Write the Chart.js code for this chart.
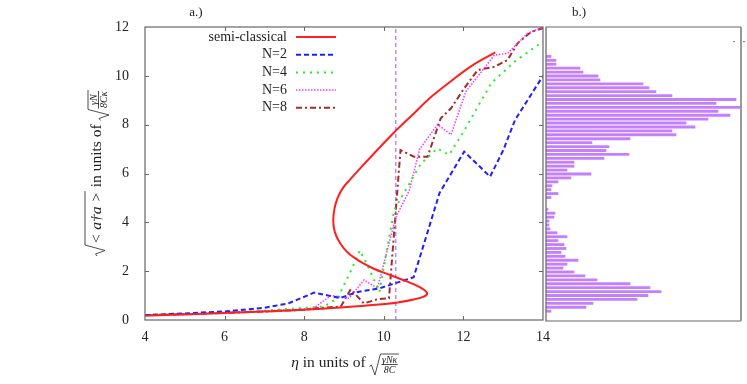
<!DOCTYPE html>
<html lang="en">
<head>
  <meta charset="UTF-8">
  <title>Bistability</title>
  <script src="https://cdn.jsdelivr.net/npm/chart.js"></script>
  <style>
    body { margin: 0; background: #fff; }
    .box { position: absolute; top: 0; height: 384px; }
  </style>
</head>
<body>
  <div class="box" style="left:0; width:560px;"><canvas id="mainChart"></canvas></div>
  <div class="box" style="left:540px; width:207px;"><canvas id="histChart"></canvas></div>

  <script>
    // semi-classical S-curve (in drawing order)
    const semiEta = [4, 5, 6, 7, 8, 9, 9.8, 10.35, 10.75, 11.0, 11.09, 11.0, 10.76, 10.45, 10.1, 9.75, 9.4, 9.1, 8.9, 8.77, 8.73, 8.76, 8.84, 8.97, 9.15, 9.4, 9.76, 10.3, 10.75, 11.2, 11.7, 12.2, 12.8];
    const semiAmp = [0.17, 0.23, 0.29, 0.35, 0.42, 0.52, 0.62, 0.72, 0.84, 0.96, 1.08, 1.25, 1.46, 1.66, 1.88, 2.1, 2.4, 2.75, 3.15, 3.6, 4.05, 4.55, 5.0, 5.4, 5.75, 6.2, 6.83, 7.75, 8.45, 9.15, 9.8, 10.4, 10.96];

    const n2Eta = [4, 5, 6, 7, 7.6, 8.25, 8.9, 9.35, 9.9, 10.75, 11.1, 11.4, 12.02, 12.67, 13.0, 13.3, 14];
    const n2Amp = [0.2, 0.27, 0.35, 0.5, 0.68, 1.12, 0.9, 1.15, 1.3, 1.75, 3.6, 5.2, 6.9, 5.87, 6.95, 8.2, 10.0];

    const n4Eta = [4, 5, 6, 7, 8, 8.5, 8.84, 9.17, 9.4, 9.6, 9.89, 10.26, 10.93, 11.35, 11.64, 12.0, 12.7, 13.3, 14];
    const n4Amp = [0.2, 0.25, 0.3, 0.38, 0.5, 0.55, 0.9, 2.0, 2.85, 2.2, 1.15, 4.5, 6.4, 7.03, 6.76, 7.7, 9.7, 10.6, 11.4];

    const n6Eta = [4, 5, 6, 7, 8, 8.25, 8.67, 9.13, 9.5, 9.84, 10.3, 10.64, 10.9, 11.35, 11.69, 12.06, 12.78, 13.11, 13.61, 14];
    const n6Amp = [0.2, 0.25, 0.3, 0.37, 0.45, 0.5, 1.0, 0.89, 1.64, 1.3, 4.2, 5.3, 7.0, 8.0, 7.6, 9.35, 10.85, 10.92, 11.74, 12.0];

    const n8Eta = [4, 5, 6, 7, 8, 8.25, 8.92, 9.17, 9.5, 9.84, 10.13, 10.42, 10.76, 11.1, 11.43, 11.69, 12.02, 12.36, 12.78, 13.11, 13.36, 13.7, 14];
    const n8Amp = [0.2, 0.24, 0.29, 0.35, 0.42, 0.48, 0.55, 1.26, 0.68, 0.85, 0.89, 6.96, 6.69, 6.69, 8.26, 8.67, 9.49, 10.24, 10.37, 10.65, 11.33, 11.8, 11.95];

    const markerEta = 10.3;

    // histogram counts, top bin first
    const histCounts = [0, 0, 0, 0, 0, 0, 0,
      5, 10, 10, 34, 37, 52, 54, 97, 103, 110, 126, 190, 170, 195, 172, 184, 162, 140, 149, 126,
      130, 84, 46, 63, 60, 83, 58, 28, 28, 21, 45, 25, 12, 6, 5, 12, 5, 0, 0, 2, 9, 8, 3, 3, 4,
      11, 21, 12, 18, 20, 15, 19, 32, 21, 17, 28, 39, 51, 84, 104, 115, 102, 91, 47, 40, 5,
      0, 0];

    const labels = ['semi-classical', 'N=2', 'N=4', 'N=6', 'N=8'];
    const xTicks = [4, 6, 8, 10, 12, 14];
    const yTicks = [0, 2, 4, 6, 8, 10, 12];

    const SERIF = '"Liberation Serif", "DejaVu Serif", serif';
    const font = (size, it) => (it ? 'italic ' : '') + size + 'px ' + SERIF;
    const pts = (xs, ys) => xs.map((x, i) => ({ x: x, y: ys[i] }));
    const TS = 15.5; // title font size

    function line(label, xs, ys, color, width, dash, tension) {
      return {
        label: label, data: pts(xs, ys), showLine: true, borderColor: color, backgroundColor: color,
        borderWidth: width, borderDash: dash, pointRadius: 0, tension: tension || 0, fill: false
      };
    }

    // radical sign with overline
    function drawSqrt(ctx, x, top, bottom, w) {
      const mid = bottom - (bottom - top) * 0.45;
      ctx.beginPath();
      ctx.moveTo(x, mid + 1);
      ctx.lineTo(x + 2, mid - 0.5);
      ctx.lineTo(x + 5.5, bottom);
      ctx.lineTo(x + 11, top);
      ctx.lineTo(x + w, top);
      ctx.stroke();
    }

    function runWidth(ctx, r) {
      if (r.t) { ctx.font = font(TS, r.it); return ctx.measureText(r.t).width; }
      if (r.sq) { ctx.font = font(TS, true); return 13 + ctx.measureText(r.sq).width; }
      ctx.font = font(10, true);
      return 14 + Math.max(ctx.measureText(r.num).width, ctx.measureText(r.den).width);
    }

    // draws a small formula centred on (cx, cy), baseline through cy
    function drawMath(ctx, runs, cx, cy, angle) {
      ctx.save();
      ctx.translate(cx, cy);
      ctx.rotate(angle);
      ctx.fillStyle = '#222';
      ctx.strokeStyle = '#222';
      ctx.lineWidth = 0.8;
      ctx.textBaseline = 'alphabetic';
      ctx.textAlign = 'left';
      const ws = runs.map(r => runWidth(ctx, r));
      let x = -ws.reduce((a, b) => a + b, 0) / 2;
      runs.forEach((r, i) => {
        if (r.t) {
          ctx.font = font(TS, r.it);
          ctx.fillText(r.t, x, 0);
        } else if (r.sq) {
          ctx.font = font(TS, true);
          drawSqrt(ctx, x, -16, 4, ws[i]);
          ctx.fillText(r.sq, x + 12, 0);
        } else {
          ctx.font = font(10, true);
          const w = ws[i] - 14;
          drawSqrt(ctx, x, -13, 8, ws[i]);
          ctx.textAlign = 'center';
          ctx.fillText(r.num, x + 12.5 + w / 2, -4.5);
          ctx.fillText(r.den, x + 12.5 + w / 2, 6);
          ctx.textAlign = 'left';
          ctx.beginPath();
          ctx.moveTo(x + 12, -2.5);
          ctx.lineTo(x + 13 + w, -2.5);
          ctx.stroke();
        }
        x += ws[i];
      });
      ctx.restore();
    }

    // frame, inward ticks, legend and axis titles for panel a
    const mainDecor = {
      id: 'mainDecor',
      afterDatasetsDraw(chart) {
        const ctx = chart.ctx, a = chart.chartArea;
        const sx = chart.scales.x, sy = chart.scales.y;
        ctx.save();
        ctx.strokeStyle = '#666';
        ctx.lineWidth = 1.2;
        ctx.strokeRect(a.left, a.top, a.right - a.left, a.bottom - a.top);
        ctx.lineWidth = 1;
        ctx.beginPath();
        xTicks.slice(1, -1).forEach(v => {
          const px = Math.round(sx.getPixelForValue(v)) + 0.5;
          ctx.moveTo(px, a.bottom); ctx.lineTo(px, a.bottom - 4);
          ctx.moveTo(px, a.top); ctx.lineTo(px, a.top + 4);
        });
        yTicks.slice(1, -1).forEach(v => {
          const py = Math.round(sy.getPixelForValue(v)) + 0.5;
          ctx.moveTo(a.left, py); ctx.lineTo(a.left + 4, py);
          ctx.moveTo(a.right, py); ctx.lineTo(a.right - 4, py);
        });
        ctx.stroke();

        // legend: text right-aligned, sample to the right
        chart.data.datasets.slice(0, labels.length).forEach((ds, i) => {
          const y = 37 + i * 17.7;
          ctx.font = font(14);
          ctx.fillStyle = '#222';
          ctx.textAlign = 'right';
          ctx.textBaseline = 'middle';
          ctx.fillText(ds.label, 287, y);
          ctx.strokeStyle = ds.borderColor;
          ctx.lineWidth = ds.borderWidth;
          ctx.setLineDash(ds.borderDash || []);
          ctx.beginPath();
          ctx.moveTo(296, y);
          ctx.lineTo(336, y);
          ctx.stroke();
          ctx.setLineDash([]);
        });

        ctx.font = font(13);
        ctx.fillStyle = '#222';
        ctx.textAlign = 'center';
        ctx.textBaseline = 'alphabetic';
        ctx.fillText('a.)', 196, 16);
        ctx.restore();

        drawMath(ctx, [{ t: 'η', it: true }, { t: ' in units of ' }, { num: 'γNκ', den: '8C' }], 345, 367, 0);
        drawMath(ctx, [{ sq: '< a\u2020a >' }, { t: ' in units of ' }, { num: 'γN', den: '8Cκ' }], 101, 173, -Math.PI / 2);
      }
    };

    const histDecor = {
      id: 'histDecor',
      afterDatasetsDraw(chart) {
        const ctx = chart.ctx, a = chart.chartArea;
        ctx.save();
        ctx.strokeStyle = '#666';
        ctx.lineWidth = 1.2;
        ctx.beginPath();
        ctx.moveTo(a.right, a.top); ctx.lineTo(a.left, a.top);
        ctx.lineTo(a.left, a.bottom); ctx.lineTo(a.right, a.bottom);
        ctx.stroke();
        ctx.strokeStyle = '#999';
        ctx.lineWidth = 2;
        ctx.beginPath();
        ctx.moveTo(a.right, a.top); ctx.lineTo(a.right, a.bottom);
        ctx.stroke();
        ctx.fillStyle = '#888';
        ctx.fillRect(193, 41, 2, 1.2);
        ctx.fillRect(203, 41, 2, 1.2);
        ctx.font = font(13);
        ctx.fillStyle = '#222';
        ctx.textAlign = 'center';
        ctx.fillText('b.)', 39, 16);
        ctx.restore();
      }
    };

    new Chart(document.getElementById('mainChart'), {
      type: 'scatter',
      data: {
        datasets: [
          line(labels[0], semiEta, semiAmp, '#ff1f1f', 2, [], 0.35),
          line(labels[1], n2Eta, n2Amp, '#1f1fff', 2, [5, 3]),
          line(labels[2], n4Eta, n4Amp, '#22ee22', 2, [2, 5]),
          line(labels[3], n6Eta, n6Amp, '#ff33ff', 1.5, [1.5, 1.5]),
          line(labels[4], n8Eta, n8Amp, '#a52a2a', 2, [6, 3, 2, 3]),
          line('marker', [markerEta, markerEta], [0, 12], '#b98aff', 1.5, [4, 3])
        ]
      },
      options: {
        responsive: true,
        maintainAspectRatio: false,
        animation: false,
        layout: { padding: { left: 0, top: 27, right: 17, bottom: 0 } },
        plugins: { legend: { display: false }, tooltip: { enabled: false } },
        scales: {
          x: {
            type: 'linear', min: 4, max: 14,
            afterBuildTicks: s => { s.ticks = xTicks.map(v => ({ value: v })); },
            afterFit: s => { s.height = 64; },
            grid: { display: false }, border: { display: false },
            ticks: { font: { family: SERIF, size: 14 }, color: '#222', padding: 1, maxRotation: 0 }
          },
          y: {
            min: 0, max: 12,
            afterBuildTicks: s => { s.ticks = yTicks.map(v => ({ value: v })); },
            afterFit: s => { s.width = 145; },
            grid: { display: false }, border: { display: false },
            ticks: { font: { family: SERIF, size: 14 }, color: '#222', padding: 8 }
          }
        }
      },
      plugins: [mainDecor]
    });

    new Chart(document.getElementById('histChart'), {
      type: 'bar',
      data: {
        labels: histCounts.map((c, i) => String(i)),
        datasets: [{ data: histCounts, backgroundColor: 'rgb(196,128,252)', borderWidth: 0, barThickness: 2.2 }]
      },
      options: {
        indexAxis: 'y',
        responsive: true,
        maintainAspectRatio: false,
        animation: false,
        layout: { padding: { left: 6, top: 27, right: 6, bottom: 63 } },
        plugins: { legend: { display: false }, tooltip: { enabled: false } },
        scales: {
          x: { display: false, min: 0, max: 195 },
          y: { display: false }
        }
      },
      plugins: [histDecor]
    });
  </script>
</body>
</html>
